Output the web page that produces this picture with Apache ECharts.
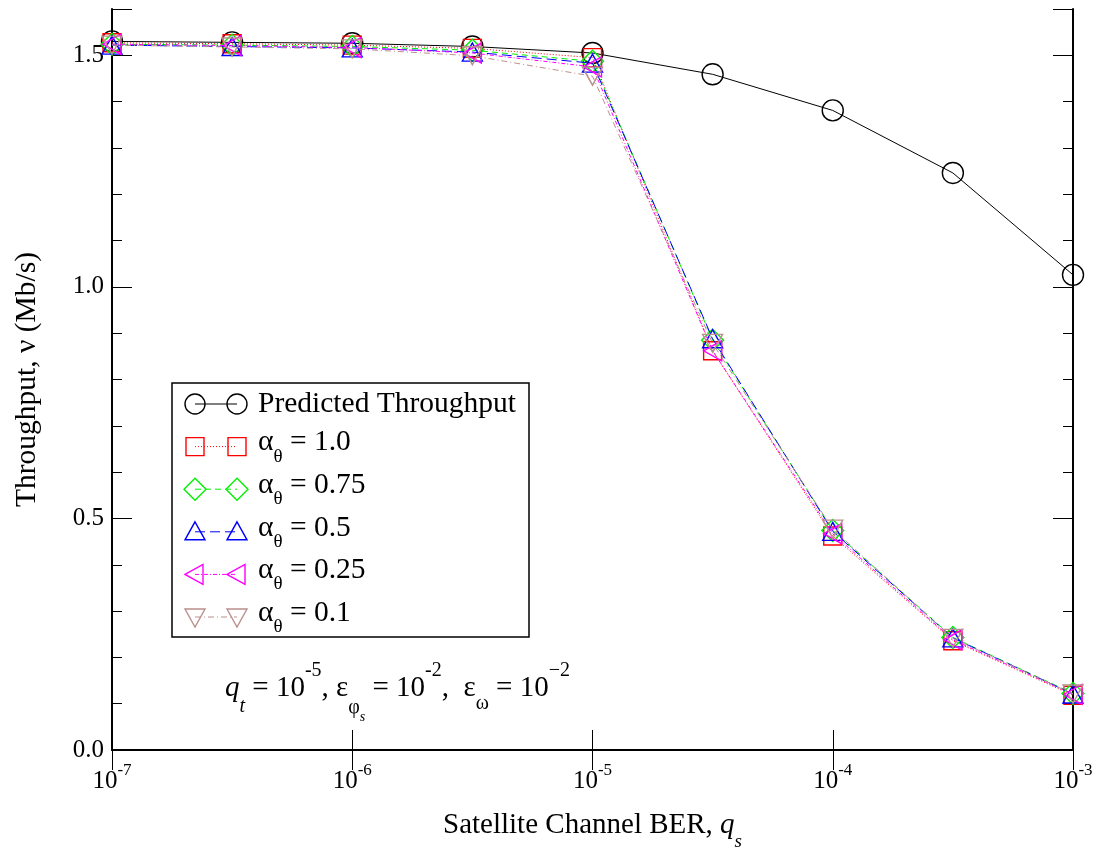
<!DOCTYPE html>
<html><head><meta charset="utf-8">
<script src="https://cdn.jsdelivr.net/npm/echarts@6/dist/echarts.min.js"></script>
<style>html,body{margin:0;padding:0;background:#fff}#c{width:1102px;height:856px}</style>
</head><body><div id="c"></div>
<script>
// ---- data ----
const xValues = [1e-7, 3.162e-7, 1e-6, 3.162e-6, 1e-5, 3.162e-5, 1e-4, 3.162e-4, 1e-3];
const predicted = [1.530, 1.528, 1.526, 1.519, 1.505, 1.459, 1.381, 1.246, 1.026];
const alpha100  = [1.527, 1.525, 1.522, 1.515, 1.495, 0.862, 0.462, 0.236, 0.118];
const alpha075  = [1.524, 1.522, 1.519, 1.511, 1.487, 0.885, 0.474, 0.243, 0.122];
const alpha050  = [1.522, 1.519, 1.516, 1.507, 1.483, 0.888, 0.472, 0.242, 0.121];
const alpha025  = [1.524, 1.521, 1.517, 1.505, 1.475, 0.862, 0.467, 0.238, 0.120];
const alpha010  = [1.522, 1.518, 1.514, 1.499, 1.455, 0.878, 0.477, 0.241, 0.121];
const alphaLabels = ['1.0', '0.75', '0.5', '0.25', '0.1'];
const yTickLabels = ['0.0', '0.5', '1.0', '1.5'];

// ---- styling ----
const FONT = '"Liberation Serif", "Times New Roman", serif';
const seriesDefs = [
  {name: 'Predicted Throughput', data: predicted, color: '#000000', dash: 'solid', sym: 'circle'},
  {name: 'α_θ = ' + alphaLabels[0], data: alpha100, color: '#ff0000', dash: [1, 2], sym: 'rect'},
  {name: 'α_θ = ' + alphaLabels[1], data: alpha075, color: '#00f000', dash: [6, 4], sym: 'diamond'},
  {name: 'α_θ = ' + alphaLabels[2], data: alpha050, color: '#0000ff', dash: [10, 5], sym: 'triangle'},
  {name: 'α_θ = ' + alphaLabels[3], data: alpha025, color: '#ff00ff', dash: [4, 2, 1, 2], sym: 'left'},
  {name: 'α_θ = ' + alphaLabels[4], data: alpha010, color: '#bc8f8f', dash: [6, 3, 1, 3], sym: 'down'}
];
const symbolMap = {
  circle: 'circle', rect: 'rect', diamond: 'diamond', triangle: 'triangle',
  left: 'path://M0,10L18,0L18,20Z', down: 'path://M0,0L20,0L10,18Z'
};
const symbolSizeMap = {circle: 21, rect: 18, diamond: 22, triangle: [20, 18], left: [18, 20], down: [20, 18]};

const series = seriesDefs.map((d, i) => ({
  name: d.name, type: 'line', xAxisIndex: 0, yAxisIndex: 0,
  data: xValues.map((x, k) => [x, d.data[k]]),
  symbol: symbolMap[d.sym], symbolSize: symbolSizeMap[d.sym], showAllSymbol: true,
  lineStyle: {color: d.color, width: 1, type: d.dash},
  itemStyle: {color: 'rgba(0,0,0,0)', borderColor: d.color, borderWidth: 1.4},
  emphasis: {disabled: true}, clip: false, z: 2 + i, animation: false
}));

// ---- legend built as graphics ----
function legendSymbol(kind, cx, cy, color) {
  const st = {fill: 'none', stroke: color, lineWidth: 1.4};
  if (kind === 'circle') return {type: 'circle', shape: {cx, cy, r: 10}, style: st, z: 102};
  if (kind === 'rect') return {type: 'rect', shape: {x: cx - 9, y: cy - 9, width: 18, height: 18}, style: st, z: 102};
  let pts;
  if (kind === 'diamond') pts = [[cx, cy - 11], [cx + 11, cy], [cx, cy + 11], [cx - 11, cy]];
  if (kind === 'triangle') pts = [[cx, cy - 10], [cx + 10, cy + 8], [cx - 10, cy + 8]];
  if (kind === 'left') pts = [[cx - 10, cy], [cx + 8, cy - 10], [cx + 8, cy + 10]];
  if (kind === 'down') pts = [[cx - 10, cy - 8], [cx + 10, cy - 8], [cx, cy + 10]];
  return {type: 'polygon', shape: {points: pts}, style: st, z: 102};
}
const legendRich = {
  b: {fontSize: 29.5, fontFamily: FONT, lineHeight: 40, verticalAlign: 'middle', fill: '#000'},
  s: {fontSize: 19, fontFamily: FONT, height: 12, lineHeight: 12, verticalAlign: 'bottom', fill: '#000'}
};
const graphics = [{type: 'rect', shape: {x: 172, y: 383, width: 357, height: 254},
  style: {fill: '#fff', stroke: '#000', lineWidth: 1.5}, z: 100}];
seriesDefs.forEach((d, i) => {
  const cy = 404 + i * 42.6;
  graphics.push({type: 'line', shape: {x1: 195, y1: cy, x2: 237, y2: cy},
    style: {stroke: d.color, lineWidth: 1, lineDash: d.dash === 'solid' ? null : d.dash}, z: 101});
  graphics.push(legendSymbol(d.sym, 195, cy, d.color));
  graphics.push(legendSymbol(d.sym, 237, cy, d.color));
  const txt = i === 0 ? '{b|' + d.name + '}' : '{b|α}{s|θ}{b| = ' + alphaLabels[i - 1] + '}';
  graphics.push({type: 'text', x: 258, y: i === 0 ? cy : cy - 4, z: 103,
    style: {text: txt, rich: legendRich, verticalAlign: 'middle', align: 'left', fill: '#000', fontSize: 29.5, fontFamily: FONT}});
});
// annotation
const annRich = {
  b: {fontSize: 29, fontFamily: FONT, lineHeight: 60, verticalAlign: 'middle', fill: '#000'},
  qi: {fontSize: 29, fontFamily: FONT, fontStyle: 'italic', lineHeight: 60, verticalAlign: 'middle', fill: '#000'},
  t: {fontSize: 20, fontFamily: FONT, fontStyle: 'italic', height: 22, lineHeight: 22, verticalAlign: 'bottom', fill: '#000'},
  sup: {fontSize: 20, fontFamily: FONT, height: 26, lineHeight: 26, verticalAlign: 'top', fill: '#000'},
  phi: {fontSize: 20, fontFamily: FONT, height: 20, lineHeight: 20, verticalAlign: 'bottom', fill: '#000'},
  ss: {fontSize: 14, fontFamily: FONT, fontStyle: 'italic', height: 2, lineHeight: 2, verticalAlign: 'bottom', fill: '#000'},
  om: {fontSize: 20, fontFamily: FONT, height: 28, lineHeight: 28, verticalAlign: 'bottom', fill: '#000'}
};
graphics.push({type: 'text', x: 225, y: 688, z: 103, style: {
  text: '{qi|q}{t|t}{b| = 10}{sup|-5}{b|, ε}{phi|φ}{ss|s}{b| = 10}{sup|-2}{b|,  ε}{om|ω}{b| = 10}{sup|−2}',
  rich: annRich, verticalAlign: 'middle', align: 'left', fill: '#000', fontSize: 29, fontFamily: FONT}});

// ---- axes ----
const axisLineStyle = {show: true, lineStyle: {color: '#000', width: 2}};
const xLabelRich = {
  b: {fontSize: 25, fontFamily: FONT, lineHeight: 32, verticalAlign: 'bottom', color: '#000'},
  s: {fontSize: 17, fontFamily: FONT, lineHeight: 14, verticalAlign: 'top', color: '#000'}
};
function isMajor(v) { return Math.abs(v * 2 - Math.round(v * 2)) < 1e-9; }
const xAxisCommon = {type: 'log', logBase: 10, min: 1e-7, max: 1e-3, splitLine: {show: false},
  minorTick: {show: false}, axisLine: axisLineStyle,
  axisTick: {show: true, inside: true, length: 20, lineStyle: {color: '#000', width: 1}}};
const yBase = {type: 'value', min: 0, max: 1.6, splitLine: {show: false}};

const option = {
  backgroundColor: '#fff',
  animation: false,
  grid: {left: 112, right: 29, top: 9, bottom: 104, containLabel: false},
  xAxis: [
    Object.assign({}, xAxisCommon, {position: 'bottom',
      axisLabel: {show: true, margin: 12, formatter: v => '{b|10}{s|' + Math.round(Math.log10(v)) + '}', rich: xLabelRich},
      name: '{n|Satellite Channel BER, }{q|q}{s|s}', nameLocation: 'middle', nameGap: 61,
      nameTextStyle: {rich: {
        n: {fontSize: 29, fontFamily: FONT, lineHeight: 40, verticalAlign: 'top', color: '#000'},
        q: {fontSize: 29, fontFamily: FONT, fontStyle: 'italic', lineHeight: 40, verticalAlign: 'top', color: '#000'},
        s: {fontSize: 19, fontFamily: FONT, fontStyle: 'italic', lineHeight: 6, verticalAlign: 'bottom', color: '#000'}
      }}}),
    Object.assign({}, xAxisCommon, {position: 'top', axisLabel: {show: false}})
  ],
  yAxis: [
    Object.assign({}, yBase, {position: 'left', interval: 0.5, axisLine: axisLineStyle,
      axisTick: {inside: true, length: 20, lineStyle: {color: '#000', width: 1}},
      axisLabel: {margin: 8, fontSize: 25, fontFamily: FONT, color: '#000',
        formatter: v => isMajor(v) ? yTickLabels[Math.round(v * 2)] : ''},
      name: 'Throughput, ν (Mb/s)', nameLocation: 'middle', nameGap: 70,
      nameTextStyle: {fontSize: 29.5, fontFamily: FONT, color: '#000'}}),
    Object.assign({}, yBase, {position: 'left', interval: 0.1, axisLine: {show: false},
      axisTick: {inside: true, length: 10, lineStyle: {color: '#000', width: 1}}, axisLabel: {show: false}}),
    Object.assign({}, yBase, {position: 'right', interval: 0.5, axisLine: axisLineStyle,
      axisTick: {inside: true, length: 20, lineStyle: {color: '#000', width: 1}}, axisLabel: {show: false}}),
    Object.assign({}, yBase, {position: 'right', interval: 0.1, axisLine: {show: false},
      axisTick: {inside: true, length: 10, lineStyle: {color: '#000', width: 1}}, axisLabel: {show: false}})
  ],
  series: series,
  graphic: graphics
};
const chart = echarts.init(document.getElementById('c'), null, {renderer: 'canvas'});
chart.setOption(option);
</script>
</body></html>
